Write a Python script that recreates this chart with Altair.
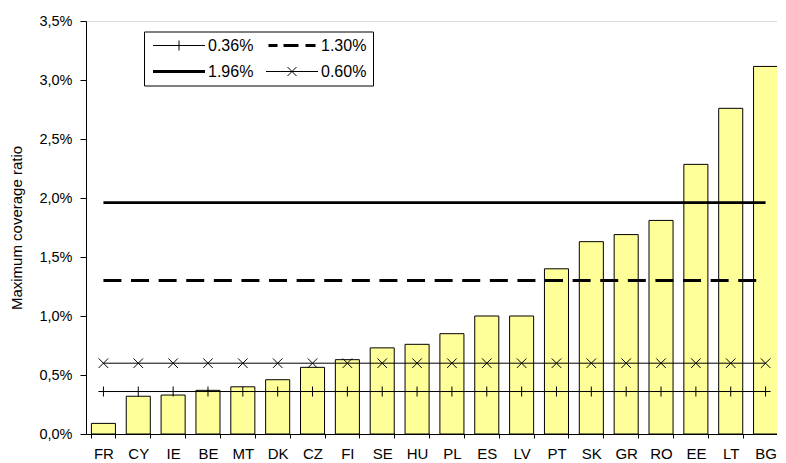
import altair as alt
import pandas as pd

# ---- data ----
countries = ["FR", "CY", "IE", "BE", "MT", "DK", "CZ", "FI", "SE", "HU",
             "PL", "ES", "LV", "PT", "SK", "GR", "RO", "EE", "LT", "BG"]
ratios = [0.09, 0.32, 0.33, 0.37, 0.40, 0.46, 0.565, 0.63, 0.73, 0.76,
          0.85, 1.00, 1.00, 1.40, 1.63, 1.69, 1.81, 2.285, 2.76, 3.115]
ref_labels = ["0.36%", "1.30%", "1.96%", "0.60%"]
ref_values = [0.36, 1.30, 1.96, 0.60]
y_ticks = [0, 0.5, 1.0, 1.5, 2.0, 2.5, 3.0, 3.5]

FONT = "Liberation Sans"

bars_df = pd.DataFrame({"country": countries, "value": ratios})
lines_df = pd.DataFrame(
    [{"country": c, "series": lab, "value": v}
     for lab, v in zip(ref_labels, ref_values) for c in countries]
)
legend_df = pd.DataFrame({"country": [countries[0]] * 4,
                          "series": ref_labels,
                          "value": [-1.0] * 4})

# marker paths (unit box -1..1)
PLUS = "M-1,0H1M0,-1V1"
CROSS = "M-0.95,-0.95L0.95,0.95M-0.95,0.95L0.95,-0.95"
# legend sample paths (1 unit = 5px at size 100)
LEG_PLUS = "M-5.2,0H5.2M0,-1V1"
def thick(x0, x1):
    return "".join(f"M{x0},{y}H{x1}" for y in (-0.2, 0, 0.2))
LEG_DASH = thick(-4.7, -2.9) + thick(-1.7, 1.3) + thick(2.7, 4.7)
LEG_SOLID = thick(-5.2, 5.2)
LEG_CROSS = "M-5.2,0H5.2M-0.9,-0.9L0.9,0.9M-0.9,0.9L0.9,-0.9"

x_enc = alt.X(
    "country:N",
    sort=countries,
    scale=alt.Scale(domain=countries, paddingInner=0.31, paddingOuter=0.155),
    axis=alt.Axis(title=None, labelAngle=0, tickBand="extent", domainColor="black",
                  tickColor="black", tickSize=4, labelPadding=8, labelFontSize=15,
                  labelFont=FONT, labelColor="black"),
)
y_enc = alt.Y(
    "value:Q",
    scale=alt.Scale(domain=[0, 3.5], nice=False, zero=True),
    axis=alt.Axis(values=y_ticks, grid=False, domainColor="black", tickColor="black",
                  tickSize=6, labelPadding=8, labelFontSize=14.5, labelFont=FONT,
                  labelColor="black",
                  labelExpr="replace(format(datum.value, '.1f'), '.', ',') + '%'",
                  title="Maximum coverage ratio", titleFont=FONT, titleFontSize=15,
                  titleFontWeight="normal", titleColor="black", titlePadding=14),
)

bars = alt.Chart(bars_df).mark_bar(
    fill="#FFFF99", stroke="black", strokeWidth=1
).encode(x=x_enc, y=y_enc)

def line_layer(label, **style):
    return alt.Chart(lines_df).transform_filter(
        alt.datum.series == label
    ).mark_line(color="black", **style).encode(x=x_enc, y=y_enc)

l036 = line_layer("0.36%", strokeWidth=1)
l130 = line_layer("1.30%", strokeWidth=3, strokeDash=[18, 9.6])
l196 = line_layer("1.96%", strokeWidth=2.8)
l060 = line_layer("0.60%", strokeWidth=1)

def marker_layer(label, shape):
    return alt.Chart(lines_df).transform_filter(
        alt.datum.series == label
    ).mark_point(shape=shape, size=100, filled=False, color="black",
                 strokeWidth=1, opacity=1).encode(x=x_enc, y=y_enc)

m036 = marker_layer("0.36%", PLUS)
m060 = marker_layer("0.60%", CROSS)

legend_layer = alt.Chart(legend_df).mark_point(
    clip=True, filled=False, color="black", strokeWidth=1, size=100, opacity=1
).encode(
    x=x_enc, y=y_enc,
    shape=alt.Shape(
        "series:N",
        scale=alt.Scale(domain=ref_labels, range=[LEG_PLUS, LEG_DASH, LEG_SOLID, LEG_CROSS]),
        legend=alt.Legend(
            title=None, orient="none", legendX=58, legendY=10.5, columns=2,
            direction="horizontal",
            labelFont=FONT, labelFontSize=16, labelColor="black",
            symbolSize=100, symbolStrokeWidth=1,
            symbolStrokeColor="black", symbolOffset=21, labelOffset=21,
            strokeColor="black", fillColor="white", padding=6,
            rowPadding=10, columnPadding=9,
        ),
    ),
)

chart = alt.layer(bars, l036, l130, l196, l060, m036, m060, legend_layer).properties(
    width=697, height=413,
    padding={"left": 1, "top": 5, "right": -6, "bottom": 0},
).configure_view(stroke=None).configure(background="white")

chart.save("out.html", embed_options={"renderer": "svg", "actions": False})
